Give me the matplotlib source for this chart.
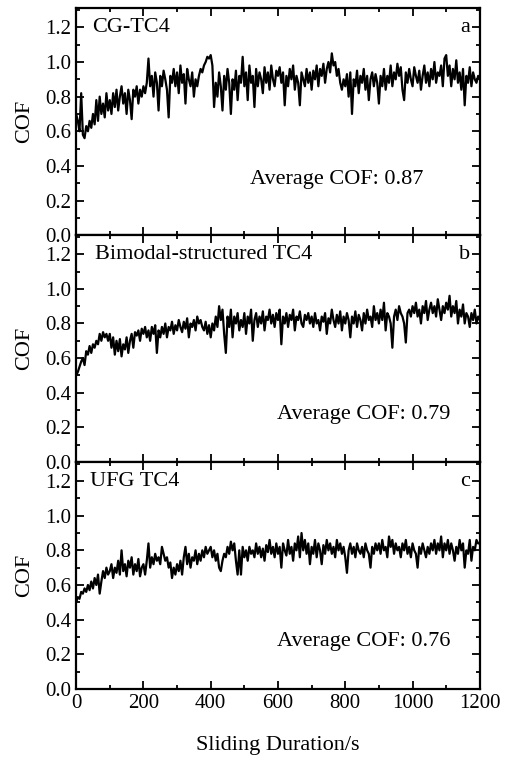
import numpy as np
import matplotlib
matplotlib.use("Agg")
import matplotlib.pyplot as plt
from matplotlib.ticker import MultipleLocator

plt.rcParams['font.family'] = ['Liberation Serif', 'DejaVu Serif']

# sampling time (s), one reading every 5 s
time_s = np.arange(0, 1201, 5)

# COF readings estimated from the figure, 20 values per 100 s
cof_cg = [
    0.70, 0.66, 0.60, 0.82, 0.58, 0.56, 0.63, 0.60, 0.66, 0.62, 0.70, 0.64, 0.78, 0.66, 0.80, 0.70, 0.76, 0.68, 0.82, 0.72,
    0.78, 0.70, 0.82, 0.74, 0.84, 0.72, 0.80, 0.86, 0.76, 0.82, 0.70, 0.84, 0.78, 0.67, 0.84, 0.80, 0.86, 0.76, 0.84, 0.80,
    0.86, 0.82, 0.88, 1.02, 0.86, 0.92, 0.80, 0.94, 0.88, 0.72, 0.92, 0.86, 0.95, 0.90, 0.84, 0.68, 0.92, 0.88, 0.96, 0.86,
    0.94, 0.82, 0.98, 0.88, 0.93, 0.76, 0.96, 0.90, 0.86, 0.94, 0.80, 0.90, 0.86, 0.92, 0.96, 0.94, 0.98, 1.00, 1.03, 1.02,
    1.04, 0.98, 0.74, 0.88, 0.80, 0.94, 0.86, 0.72, 0.92, 0.84, 0.96, 0.88, 0.70, 0.90, 0.84, 0.95, 0.78, 0.92, 0.88, 1.03,
    0.86, 0.94, 0.78, 0.98, 0.88, 0.92, 0.74, 0.96, 0.86, 0.94, 0.90, 0.82, 0.97, 0.88, 0.94, 0.84, 0.98, 0.90, 0.86, 0.95,
    0.92, 0.97, 0.88, 0.94, 0.75, 0.92, 0.86, 0.96, 0.90, 0.98, 0.84, 0.92, 0.88, 0.75, 0.94, 0.90, 0.86, 0.96, 0.88, 0.94,
    0.84, 0.95, 0.90, 0.98, 0.86, 0.96, 0.92, 0.99, 0.88, 0.96, 1.00, 0.94, 1.05, 0.98, 1.00, 0.92, 0.96, 0.88, 0.84, 0.90,
    0.86, 0.93, 0.80, 0.94, 0.70, 0.90, 0.86, 0.95, 0.82, 0.92, 0.88, 0.96, 0.84, 0.92, 0.78, 0.90, 0.94, 0.86, 0.93, 0.88,
    0.76, 0.92, 0.86, 0.96, 0.84, 0.92, 0.88, 0.98, 0.86, 0.94, 0.90, 0.99, 0.92, 0.97, 0.84, 0.78, 0.94, 0.88, 0.96, 0.90,
    0.86, 0.97, 0.92, 0.88, 0.95, 0.84, 0.92, 0.98, 0.88, 0.94, 0.86, 0.96, 0.90, 1.00, 0.88, 0.94, 0.92, 0.98, 0.86, 1.02,
    1.04, 0.92, 0.98, 0.86, 0.96, 0.90, 1.01, 0.88, 0.94, 0.84, 0.96, 0.75, 0.92, 0.88, 0.97, 0.86, 0.94, 0.90, 0.88, 0.92,
    0.90,
]

cof_bimodal = [
    0.50, 0.52, 0.55, 0.58, 0.60, 0.56, 0.64, 0.62, 0.67, 0.63, 0.68, 0.66, 0.70, 0.68, 0.74, 0.70, 0.75, 0.72, 0.74, 0.70,
    0.74, 0.66, 0.72, 0.62, 0.70, 0.64, 0.71, 0.61, 0.68, 0.65, 0.72, 0.63, 0.70, 0.74, 0.66, 0.75, 0.73, 0.76, 0.70, 0.77,
    0.74, 0.78, 0.72, 0.76, 0.70, 0.78, 0.74, 0.79, 0.63, 0.76, 0.72, 0.78, 0.74, 0.80, 0.72, 0.78, 0.76, 0.81, 0.74, 0.79,
    0.76, 0.82, 0.78, 0.75, 0.81, 0.77, 0.83, 0.72, 0.80, 0.78, 0.82, 0.76, 0.84, 0.80, 0.82, 0.78, 0.76, 0.81, 0.74, 0.79,
    0.72, 0.80, 0.76, 0.84, 0.78, 0.90, 0.82, 0.88, 0.74, 0.63, 0.84, 0.78, 0.88, 0.72, 0.84, 0.80, 0.86, 0.76, 0.82, 0.78,
    0.86, 0.74, 0.84, 0.80, 0.88, 0.70, 0.82, 0.86, 0.78, 0.84, 0.80, 0.87, 0.76, 0.84, 0.82, 0.88, 0.80, 0.85, 0.78, 0.86,
    0.82, 0.88, 0.68, 0.84, 0.80, 0.86, 0.78, 0.85, 0.82, 0.88, 0.76, 0.84, 0.82, 0.87, 0.80, 0.78, 0.85, 0.82, 0.86, 0.80,
    0.84, 0.78, 0.86, 0.80, 0.82, 0.76, 0.84, 0.81, 0.86, 0.74, 0.83, 0.80, 0.88, 0.82, 0.78, 0.85, 0.80, 0.87, 0.76, 0.84,
    0.80, 0.86, 0.82, 0.72, 0.84, 0.80, 0.87, 0.78, 0.85, 0.82, 0.76, 0.86, 0.80, 0.88, 0.82, 0.84, 0.78, 0.90, 0.82, 0.86,
    0.80, 0.88, 0.82, 0.92, 0.76, 0.86, 0.84, 0.80, 0.66, 0.84, 0.88, 0.82, 0.90, 0.86, 0.84, 0.80, 0.69, 0.86, 0.88, 0.84,
    0.90, 0.86, 0.92, 0.84, 0.88, 0.80, 0.90, 0.86, 0.93, 0.82, 0.88, 0.92, 0.86, 0.90, 0.84, 0.94, 0.88, 0.82, 0.90, 0.86,
    0.92, 0.88, 0.96, 0.84, 0.90, 0.86, 0.93, 0.80, 0.88, 0.84, 0.91, 0.80, 0.86, 0.84, 0.78, 0.86, 0.82, 0.88, 0.80, 0.84,
    0.82,
]

cof_ufg = [
    0.50, 0.53, 0.52, 0.56, 0.55, 0.58, 0.56, 0.60, 0.57, 0.62, 0.58, 0.64, 0.60, 0.66, 0.55, 0.62, 0.68, 0.64, 0.70, 0.66,
    0.68, 0.72, 0.64, 0.70, 0.67, 0.74, 0.66, 0.80, 0.68, 0.72, 0.65, 0.74, 0.70, 0.76, 0.66, 0.72, 0.68, 0.75, 0.65, 0.70,
    0.72, 0.66, 0.74, 0.84, 0.70, 0.76, 0.72, 0.78, 0.74, 0.76, 0.72, 0.82, 0.78, 0.74, 0.76, 0.70, 0.73, 0.64, 0.70, 0.66,
    0.72, 0.68, 0.74, 0.66, 0.76, 0.82, 0.72, 0.78, 0.70, 0.76, 0.74, 0.80, 0.72, 0.78, 0.74, 0.80, 0.76, 0.82, 0.78, 0.80,
    0.82, 0.76, 0.80, 0.74, 0.78, 0.70, 0.68, 0.74, 0.78, 0.76, 0.82, 0.78, 0.85, 0.80, 0.84, 0.74, 0.66, 0.80, 0.66, 0.82,
    0.76, 0.80, 0.74, 0.82, 0.78, 0.80, 0.76, 0.84, 0.78, 0.82, 0.76, 0.81, 0.74, 0.83, 0.79, 0.86, 0.78, 0.82, 0.76, 0.84,
    0.78, 0.82, 0.70, 0.84, 0.80, 0.77, 0.86, 0.78, 0.82, 0.74, 0.84, 0.80, 0.88, 0.76, 0.90, 0.80, 0.86, 0.78, 0.84, 0.72,
    0.82, 0.78, 0.86, 0.76, 0.84, 0.80, 0.72, 0.83, 0.78, 0.86, 0.80, 0.84, 0.78, 0.82, 0.76, 0.86, 0.80, 0.84, 0.78, 0.82,
    0.76, 0.67, 0.80, 0.84, 0.78, 0.82, 0.76, 0.84, 0.80, 0.78, 0.82, 0.76, 0.84, 0.80, 0.78, 0.70, 0.82, 0.78, 0.84, 0.80,
    0.84, 0.78, 0.86, 0.80, 0.82, 0.76, 0.88, 0.82, 0.86, 0.78, 0.84, 0.80, 0.82, 0.76, 0.84, 0.80, 0.86, 0.78, 0.82, 0.76,
    0.84, 0.80, 0.78, 0.70, 0.82, 0.78, 0.84, 0.80, 0.76, 0.82, 0.78, 0.84, 0.80, 0.86, 0.78, 0.84, 0.80, 0.88, 0.76, 0.84,
    0.80, 0.86, 0.78, 0.84, 0.80, 0.74, 0.82, 0.78, 0.86, 0.80, 0.84, 0.70, 0.80, 0.78, 0.86, 0.74, 0.82, 0.80, 0.86, 0.84,
    0.84,
]

sample_names = ["CG-TC4", "Bimodal-structured TC4", "UFG TC4"]
panel_tags = ["a", "b", "c"]
average_labels = ["Average COF: 0.87", "Average COF: 0.79", "Average COF: 0.76"]
series = [cof_cg, cof_bimodal, cof_ufg]

fig, axes = plt.subplots(3, 1, figsize=(5.11, 7.57), dpi=100, sharex=True,
                         gridspec_kw={'hspace': 0})
fig.subplots_adjust(left=0.149, right=0.939, top=0.989, bottom=0.090)

name_x = [0.04, 0.047, 0.035]
avg_x = [0.859, 0.926, 0.926]
avg_y = [0.245, 0.21, 0.21]

for i, ax in enumerate(axes):
    ax.plot(time_s, series[i], color='black', lw=1.6)
    ax.set_xlim(0, 1200)
    ax.set_ylim(0, 1.31)
    ax.yaxis.set_major_locator(MultipleLocator(0.2))
    ax.yaxis.set_minor_locator(MultipleLocator(0.1))
    ax.xaxis.set_major_locator(MultipleLocator(200))
    ax.xaxis.set_minor_locator(MultipleLocator(100))
    ax.tick_params(which='both', direction='in', top=True, right=True,
                   labelsize=15, width=1.3)
    ax.tick_params(which='major', length=5.5)
    ax.tick_params(which='minor', length=3)
    ax.set_yticks(np.arange(0, 1.21, 0.2))
    ax.set_yticklabels(['%.1f' % v for v in np.arange(0, 1.21, 0.2)])
    for s in ax.spines.values():
        s.set_linewidth(1.6)
    ax.set_ylabel("COF", fontsize=16)
    ax.yaxis.set_label_coords(-0.105, 0.5)
    ax.text(name_x[i], 0.915, sample_names[i], transform=ax.transAxes,
            fontsize=16, ha='left', va='center')
    ax.text(0.975, 0.915, panel_tags[i], transform=ax.transAxes,
            fontsize=16, ha='right', va='center')
    ax.text(avg_x[i], avg_y[i], average_labels[i], transform=ax.transAxes,
            fontsize=16, ha='right', va='center')

axes[2].set_xlabel("Sliding Duration/s", fontsize=16)
axes[2].xaxis.set_label_coords(0.5, -0.25)
axes[2].xaxis.label.set_va('center')

fig.savefig("out.png", dpi=100)
